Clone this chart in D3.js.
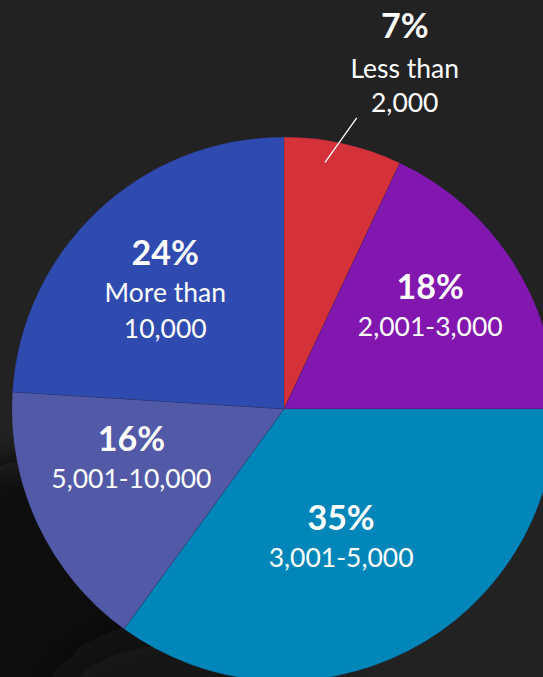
<!DOCTYPE html>
<html>
<head>
<meta charset="utf-8">
<script src="https://cdn.jsdelivr.net/npm/d3@7"></script>
<style>
  html, body { margin: 0; padding: 0; background: #222122; }
  svg { display: block; font-family: Lato, "Open Sans", sans-serif; }
</style>
</head>
<body>
<div id="chart"></div>
<script>
// data
const categories = ["Less than 2,000", "2,001-3,000", "3,001-5,000", "5,001-10,000", "More than 10,000"];
const shares = [7, 18, 35, 16, 24];
const labelLines = [["Less than", "2,000"], ["2,001-3,000"], ["3,001-5,000"], ["5,001-10,000"], ["More than", "10,000"]];
const colors = ["#d53139", "#8217b0", "#0186b9", "#525aa8", "#2f4bb0"];

const width = 543, height = 677;
const cx = 284, cy = 409, R = 272;
const pctSize = 34, lblSize = 26.5, lineH = 36.5;

const svg = d3.select("#chart").append("svg")
  .attr("width", width)
  .attr("height", height);

// background, dark photo-ish
const defs = svg.append("defs");
const blur = defs.append("filter").attr("id", "soft").attr("x", "-50%").attr("y", "-50%").attr("width", "200%").attr("height", "200%");
blur.append("feGaussianBlur").attr("stdDeviation", 18);

svg.append("rect").attr("width", width).attr("height", height).attr("fill", "#232223");
svg.append("ellipse")
  .attr("cx", 40).attr("cy", 660).attr("rx", 170).attr("ry", 200)
  .attr("fill", "#111011").attr("filter", "url(#soft)");
svg.append("ellipse")
  .attr("cx", 200).attr("cy", 690).attr("rx", 140).attr("ry", 60)
  .attr("fill", "#141314").attr("filter", "url(#soft)");

const data = categories.map((c, i) => ({ cat: c, value: shares[i], lines: labelLines[i], color: colors[i] }));

const pie = d3.pie().value(d => d.value).sort(null);
const arcs = pie(data);
const arc = d3.arc().innerRadius(0).outerRadius(R);

const g = svg.append("g").attr("transform", `translate(${cx},${cy})`);

g.selectAll("path.slice")
  .data(arcs)
  .join("path")
  .attr("class", "slice")
  .attr("d", arc)
  .attr("fill", d => d.data.color)
  .attr("stroke", "rgba(40,40,80,0.35)")
  .attr("stroke-width", 0.6);

// label positions: centroid on a ring, small nudges per slice
const labelArc = d3.arc().innerRadius(172).outerRadius(172);
const nudge = {
  "2,001-3,000": [1, 0],
  "3,001-5,000": [-21, -14],
  "5,001-10,000": [3, -13],
  "More than 10,000": [-1, -1]
};

const inside = arcs.filter(d => d.data.value >= 10);
inside.forEach(d => {
  const [x, y] = labelArc.centroid(d);
  const n = nudge[d.data.cat] || [0, 0];
  const t = g.append("text")
    .attr("text-anchor", "middle")
    .attr("fill", "#fff")
    .attr("transform", `translate(${x + n[0]},${y + n[1]})`);
  t.append("tspan")
    .attr("x", 0).attr("y", -18)
    .attr("font-size", pctSize).attr("font-weight", 700)
    .text(d.data.value + "%");
  d.data.lines.forEach((l, i) => {
    t.append("tspan")
      .attr("x", 0).attr("y", -18 + 37 + lineH * i)
      .attr("font-size", lblSize)
      .text(l);
  });
});

// small slice: label outside with leader
const small = arcs.filter(d => d.data.value < 10);
small.forEach(d => {
  const a = (d.startAngle + d.endAngle) / 2 - 0.055;
  const p0 = [Math.sin(a) * 250, -Math.cos(a) * 250];
  const p1 = [Math.sin(a + 0.08) * 300, -Math.cos(a + 0.08) * 300];
  g.append("line")
    .attr("x1", p0[0]).attr("y1", p0[1])
    .attr("x2", p1[0]).attr("y2", p1[1])
    .attr("stroke", "#fff").attr("stroke-width", 1.3);
  const tx = p1[0] + 48, ty = p1[1] - 80;
  const t = g.append("text")
    .attr("text-anchor", "middle")
    .attr("fill", "#fff")
    .attr("transform", `translate(${tx},${ty})`);
  t.append("tspan").attr("x", 0).attr("y", 0)
    .attr("font-size", pctSize).attr("font-weight", 700)
    .text(d.data.value + "%");
  d.data.lines.forEach((l, i) => {
    t.append("tspan")
      .attr("x", 0).attr("y", 40 + 34 * i)
      .attr("font-size", lblSize)
      .text(l);
  });
});
</script>
</body>
</html>
